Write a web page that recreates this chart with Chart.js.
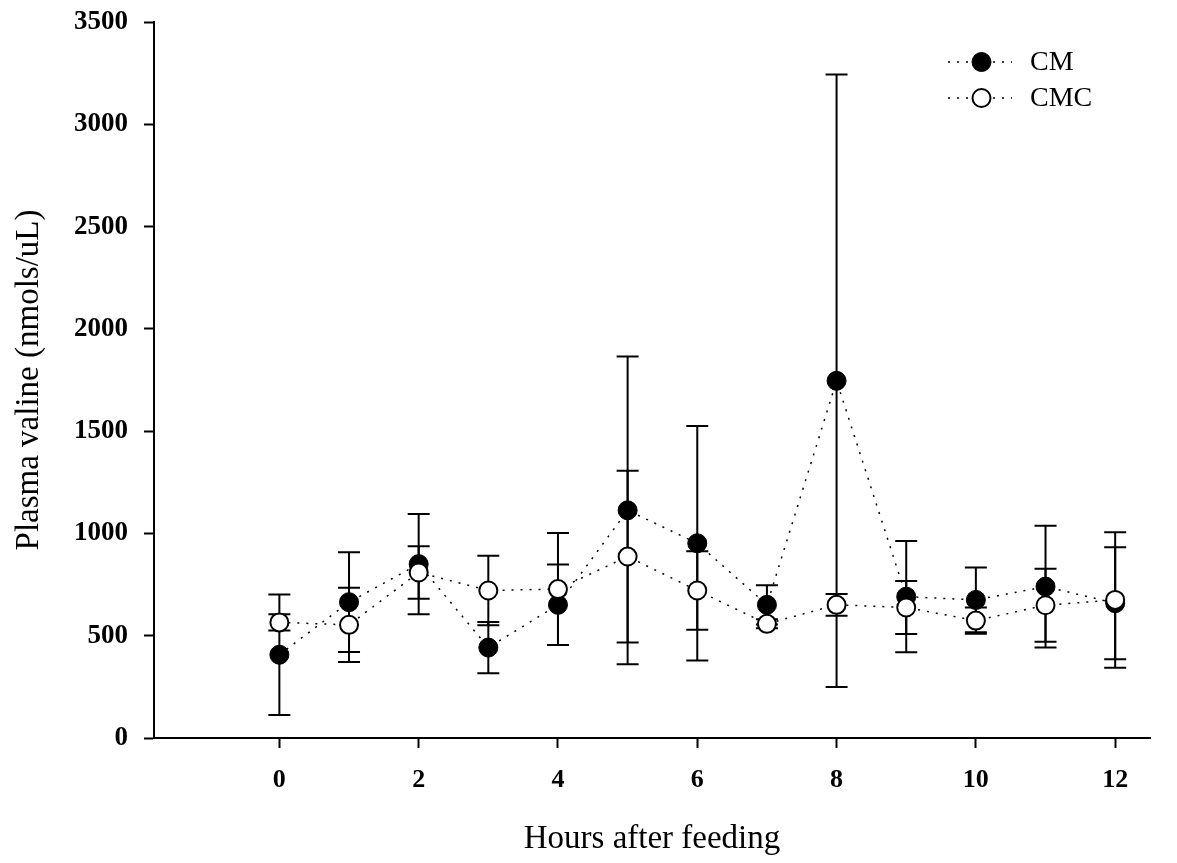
<!DOCTYPE html>
<html>
<head>
<meta charset="utf-8">
<script src="https://cdn.jsdelivr.net/npm/chart.js@4"></script>
<style>
  html, body { margin: 0; padding: 0; background: #fff; }
  #wrap { width: 1177px; height: 863px; }
</style>
</head>
<body>
<div id="wrap"><canvas id="graph1" width="1177" height="863"></canvas></div>
<script>
// hours after feeding
const hours = [0, 1, 2, 3, 4, 5, 6, 7, 8, 9, 10, 11, 12];

// plasma valine, means and SD
const cmMean  = [407, 664, 850, 442, 651, 1113, 952, 651, 1746, 691, 675, 740, 659];
const cmSd    = [295, 244, 245, 125, 197, 752, 573, 96, 1497, 272, 158, 298, 274];
const cmcMean = [565, 553, 809, 721, 728, 887, 721, 558, 651, 638, 574, 649, 675];
const cmcSd   = [40, 181, 128, 170, 274, 420, 192, 22, 53, 130, 64, 178, 331];

const xTicks = [0, 2, 4, 6, 8, 10, 12];
const yTicks = [0, 500, 1000, 1500, 2000, 2500, 3000, 3500];

const serif = "'Liberation Serif', 'Times New Roman', serif";

// error bars, drawn under the lines and markers
const errorBars = {
    id: 'errorBars',
    beforeDatasetsDraw(chart) {
        const ctx = chart.ctx;
        const xs = chart.scales.x, ys = chart.scales.y;
        ctx.save();
        ctx.strokeStyle = '#000';
        ctx.lineWidth = 2;
        chart.data.datasets.forEach(ds => {
            ds.data.forEach((p, i) => {
                const sd = ds.sd[i];
                const x = xs.getPixelForValue(p.x);
                const top = ys.getPixelForValue(p.y + sd);
                const bot = ys.getPixelForValue(p.y - sd);
                ctx.beginPath();
                ctx.moveTo(x, top); ctx.lineTo(x, bot);
                ctx.moveTo(x - 11, top); ctx.lineTo(x + 11, top);
                ctx.moveTo(x - 11, bot); ctx.lineTo(x + 11, bot);
                ctx.stroke();
            });
        });
        ctx.restore();
    }
};

// SigmaPlot style legend: dotted line with the symbol in the middle
const dotLegend = {
    id: 'dotLegend',
    afterDraw(chart) {
        const ctx = chart.ctx;
        const rows = [62, 98];
        ctx.save();
        chart.data.datasets.forEach((ds, k) => {
            const y = rows[k];
            ctx.strokeStyle = '#000';
            ctx.lineWidth = 1.5;
            ctx.setLineDash([2, 7]);
            ctx.beginPath();
            ctx.moveTo(948, y); ctx.lineTo(1012, y);
            ctx.stroke();
            ctx.setLineDash([]);
            ctx.beginPath();
            ctx.arc(981.5, y, ds.pointRadius, 0, Math.PI * 2);
            ctx.fillStyle = ds.pointBackgroundColor;
            ctx.fill();
            ctx.lineWidth = ds.pointBorderWidth;
            ctx.stroke();
            ctx.fillStyle = '#000';
            ctx.font = '28px ' + serif;
            ctx.textBaseline = 'middle';
            ctx.fillText(ds.label, 1030, y + 1);
        });
        ctx.restore();
    }
};

const config = {
    type: 'line',
    data: {
        datasets: [
            {
                label: 'CM',
                data: hours.map((h, i) => ({x: h, y: cmMean[i]})),
                sd: cmSd,
                borderColor: '#000',
                borderWidth: 1.5,
                borderDash: [2, 7],
                pointRadius: 9.5,
                pointBackgroundColor: '#000',
                pointBorderColor: '#000',
                pointBorderWidth: 1,
                order: 1,
            },
            {
                label: 'CMC',
                data: hours.map((h, i) => ({x: h, y: cmcMean[i]})),
                sd: cmcSd,
                borderColor: '#000',
                borderWidth: 1.5,
                borderDash: [2, 7],
                pointRadius: 9,
                pointBackgroundColor: '#fff',
                pointBorderColor: '#000',
                pointBorderWidth: 2,
                order: 0,
            }
        ]
    },
    options: {
        responsive: false,
        animation: false,
        layout: { padding: { left: 0, right: 27, top: 22, bottom: 0 } },
        scales: {
            x: {
                type: 'linear',
                min: -1.8,
                max: 12.5,
                afterBuildTicks: s => { s.ticks = xTicks.map(v => ({value: v})); },
                afterFit: s => { s.height = 125; },
                grid: {
                    drawOnChartArea: false,
                    drawTicks: true,
                    tickLength: 10,
                    tickColor: '#000',
                    tickWidth: 2,
                },
                border: { color: '#000', width: 2 },
                ticks: {
                    color: '#000',
                    padding: 17,
                    maxRotation: 0,
                    callback: v => String(v),
                    font: { family: serif, size: 26, weight: 'bold' },
                },
                title: {
                    display: true,
                    text: 'Hours after feeding',
                    color: '#000',
                    padding: { top: 0, bottom: 4 },
                    font: { family: serif, size: 33, lineHeight: 1.2 },
                }
            },
            y: {
                min: 0,
                max: 3500,
                afterBuildTicks: s => { s.ticks = yTicks.map(v => ({value: v})); },
                // fixed width, and don't let the top label push the plot down
                afterFit: s => { s.width = 154; s.paddingTop = 10; },
                grid: {
                    drawOnChartArea: false,
                    drawTicks: true,
                    tickLength: 10,
                    tickColor: '#000',
                    tickWidth: 2,
                },
                border: { color: '#000', width: 2 },
                ticks: {
                    color: '#000',
                    padding: 16,
                    callback: v => String(v),
                    font: { family: serif, size: 27, weight: 'bold' },
                },
                title: {
                    display: true,
                    text: 'Plasma valine (nmols/uL)',
                    color: '#000',
                    padding: { top: 10, bottom: 0 },
                    font: { family: serif, size: 33, lineHeight: 1.2 },
                }
            }
        },
        plugins: {
            legend: { display: false },
            tooltip: { enabled: false },
        },
    },
    plugins: [errorBars, dotLegend]
};

const myChart = new Chart(document.getElementById('graph1'), config);
</script>
</body>
</html>
